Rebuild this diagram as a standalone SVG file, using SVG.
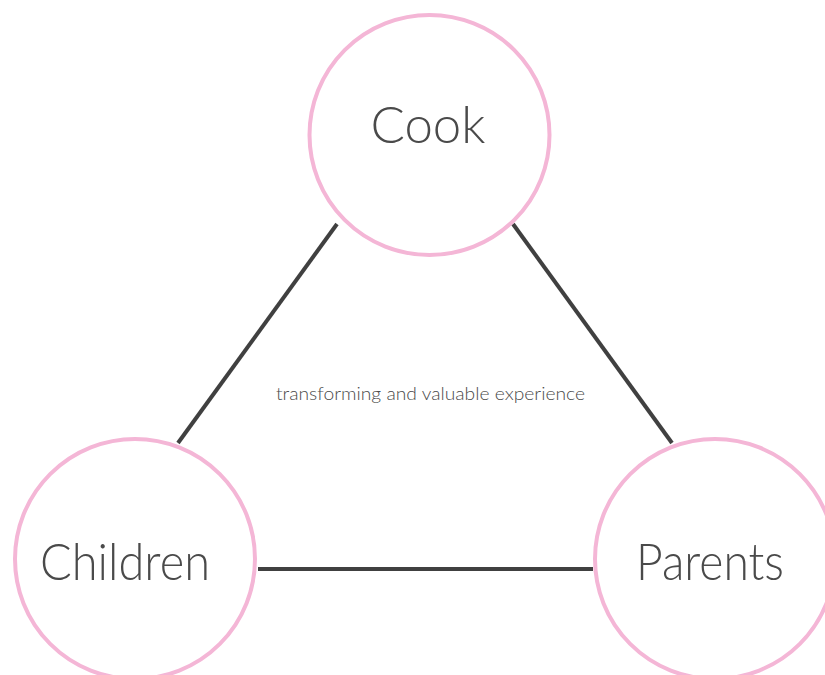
<svg xmlns="http://www.w3.org/2000/svg" width="825" height="675" viewBox="0 0 825 675">
<style>
.node circle{fill:#ffffff;stroke:#f4b6d6;stroke-width:4}
.label{font-family:"Lato","Open Sans","Liberation Sans",sans-serif;font-weight:300;fill:#4a4a4a;text-anchor:middle}
.big{font-size:52px}
.small{font-size:17px}
.edges line{stroke:#404040;stroke-width:4;stroke-linecap:butt}
</style>
<rect width="825" height="675" fill="#ffffff"/>
<g id="connectors" class="edges">
<line x1="337" y1="224" x2="178" y2="443"/>
<line x1="513" y1="224" x2="672" y2="443"/>
<line x1="258" y1="569" x2="593" y2="569"/>
</g>
<g id="node-cook" class="node">
<circle cx="429.5" cy="135" r="120"/>
<text class="label big" x="428" y="143" textLength="115" lengthAdjust="spacingAndGlyphs">Cook</text>
</g>
<g id="node-children" class="node">
<circle cx="135" cy="559" r="120"/>
<text class="label big" x="125" y="580" textLength="170" lengthAdjust="spacingAndGlyphs">Children</text>
</g>
<g id="node-parents" class="node">
<circle cx="715" cy="559" r="120"/>
<text class="label big" x="710" y="580" textLength="148" lengthAdjust="spacingAndGlyphs">Parents</text>
</g>
<g id="label-center">
<text class="label small" x="430.5" y="400" textLength="309" lengthAdjust="spacingAndGlyphs">transforming and valuable experience</text>
</g>
</svg>
